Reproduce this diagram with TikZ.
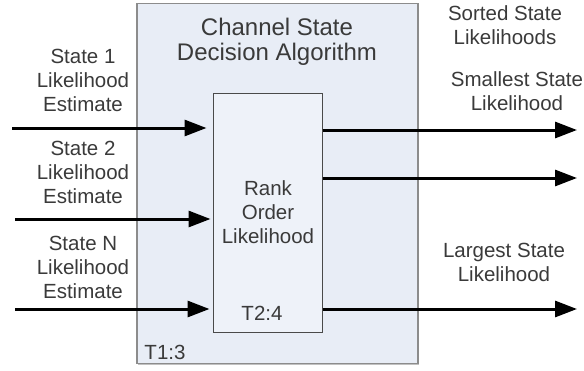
\documentclass[tikz,border=0pt]{standalone}
\usepackage{fontspec}
\setmainfont{Liberation Sans}
\usetikzlibrary{arrows.meta,shadows}
\definecolor{boxfill}{HTML}{E8EDF6}
\definecolor{innerfill}{HTML}{EEF2F9}
\definecolor{boxline}{HTML}{8C8C8C}
\definecolor{innerline}{HTML}{4A4A4A}
\definecolor{txt}{HTML}{3A3A3A}
\tikzset{
  lbl/.style={text=txt, align=center, inner sep=0pt, font=\fontsize{20.5}{24}\selectfont},
  ttl/.style={text=txt, align=center, inner sep=0pt, font=\fontsize{24}{25}\selectfont},
  flow/.style={line width=3pt, black, -{Triangle[length=22pt,width=16pt]}},
}
\begin{document}
\begin{tikzpicture}[x=1pt,y=-1pt]
\useasboundingbox (0,0) rectangle (584,370);
% outer box
\node[draw=boxline, fill=boxfill, line width=1.2pt, minimum width=281pt, minimum height=360pt, inner sep=0pt,
      drop shadow={shadow xshift=1.2pt, shadow yshift=-1.2pt, fill=gray!70, opacity=0.7}] (outer) at (277.5,183.5) {};
% inner box
\node[draw=innerline, fill=innerfill, line width=1pt, minimum width=109pt, minimum height=239pt, inner sep=0pt] (inner) at (267.5,212.5) {};
% texts
\node[ttl] (title) at (277,42) {Channel State\\Decision Algorithm};
\node[lbl] (rank) at (268,212) {Rank\\Order\\Likelihood};
\node[lbl] (t24) at (262,313) {T2:4};
\node[lbl] (t13) at (165,352) {T1:3};
\node[lbl] (s1) at (83,80) {State 1\\Likelihood\\Estimate};
\node[lbl] (s2) at (83,172) {State 2\\Likelihood\\Estimate};
\node[lbl] (sn) at (83,267) {State N\\Likelihood\\Estimate};
\node[lbl] (sorted) at (505,25) {Sorted State\\Likelihoods};
\node[lbl] (small) at (517,91) {Smallest State\\Likelihood};
\node[lbl] (large) at (504,262) {Largest State\\Likelihood};
% free ends
\coordinate (in1) at (12,128);
\coordinate (in2) at (15,219);
\coordinate (in3) at (15,309);
\coordinate (out1) at (577,130);
\coordinate (out2) at (577,178);
\coordinate (out3) at (577,309);
% arrows
\draw[flow, shorten >=6pt] (in1) -- (inner.west |- in1);
\draw[flow, shorten >=2pt] (in2) -- (inner.west |- in2);
\draw[flow, shorten >=3pt] (in3) -- (inner.west |- in3);
\draw[flow] (inner.east |- out1) -- (out1);
\draw[flow] (inner.east |- out2) -- (out2);
\draw[flow] (inner.east |- out3) -- (out3);
\end{tikzpicture}
\end{document}
